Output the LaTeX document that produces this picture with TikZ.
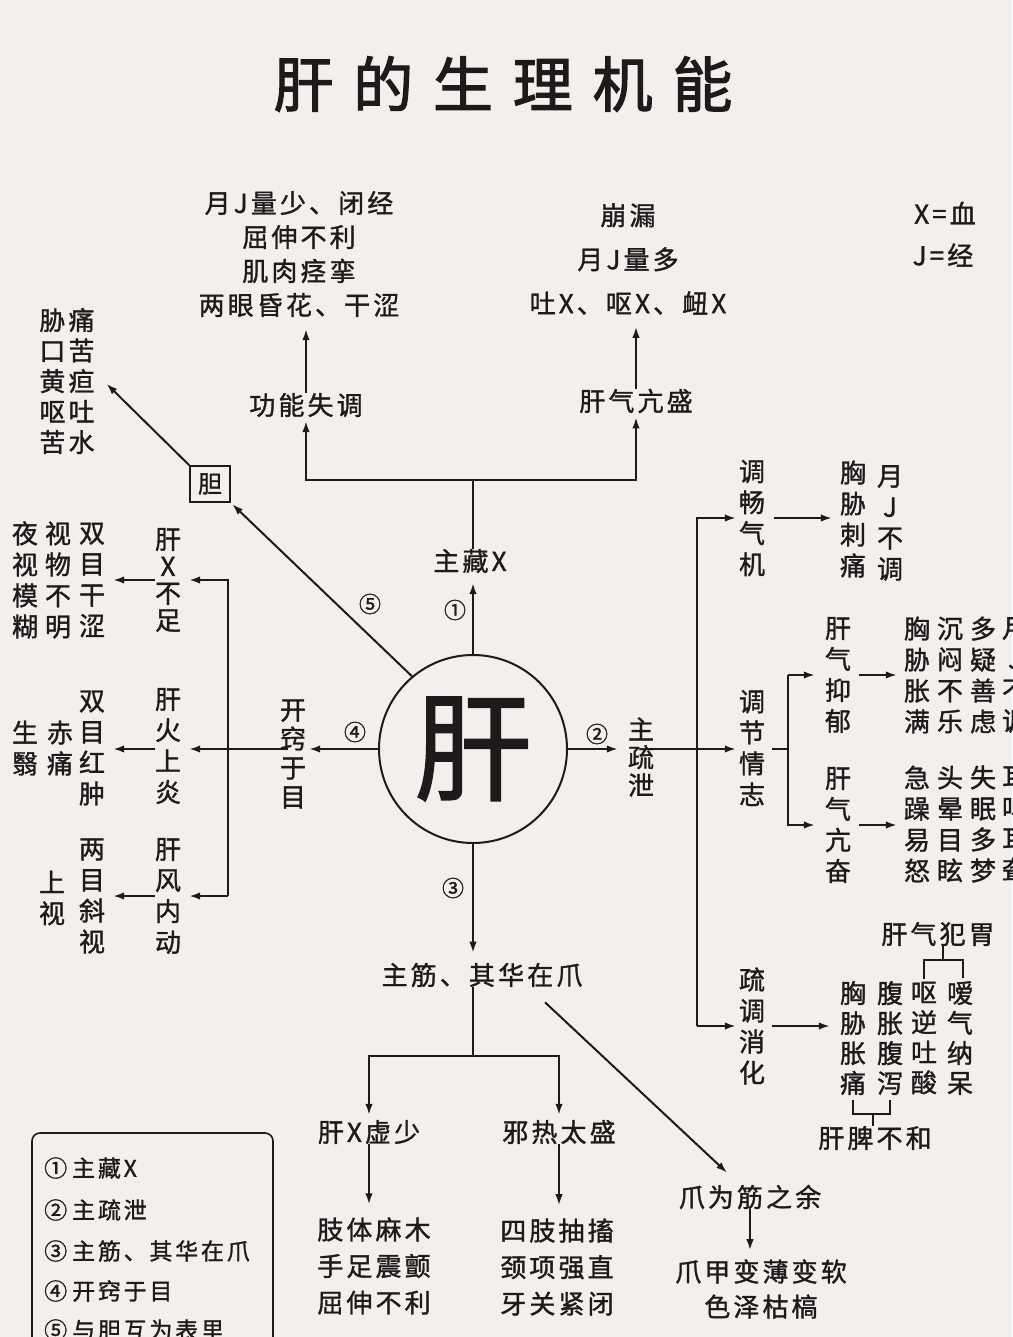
\documentclass[tikz,border=0pt]{standalone}
\usepackage{fontspec}
\setmainfont{Noto Sans CJK SC}[FakeBold=1.2]
\newfontfamily\hfont[LetterSpace=12,FakeBold=1.2]{Noto Sans CJK SC}
\newfontfamily\tfont[LetterSpace=33,FakeBold=2]{Noto Sans CJK SC}
\usetikzlibrary{arrows.meta,calc}
\definecolor{bg}{HTML}{F4EFEC}
\definecolor{ink}{HTML}{1C1A1A}
\begin{document}
\begin{tikzpicture}[x=1pt,y=-1pt,
  every node/.style={inner sep=0pt, text=ink},
  ht/.style={font=\hfont\fontsize{26}{34}\selectfont, align=center},
  vt/.style={font=\fontsize{26}{31}\selectfont, align=center},
  num/.style={font=\fontsize{22}{22}\selectfont},
  lgd/.style={anchor=west, font=\hfont\fontsize{23}{23}\selectfont},
  ln/.style={draw=ink, line width=2pt},
  arr/.style={ln, -{Latex[length=11pt,width=7.5pt]}, shorten >=4pt},
]
\fill[bg] (0,0) rectangle (1012,1337);
\useasboundingbox (0,0) rectangle (1012,1337);

% title
\node[font=\tfont\fontsize{60}{60}\selectfont] (title) at (503,84) {肝的生理机能};

% centre
\node[circle, draw=ink, line width=2pt, minimum size=188pt, font=\fontsize{118}{118}\selectfont] (gan) at (473,749) {\raisebox{-9pt}{肝}};

% ---------- top ----------
\node[ht] (zc) at (470,561) {主藏X};
\node[ht] (gnst) at (306,405) {功能失调};
\node[ht] (gqks) at (636,401) {肝气亢盛};
\node[ht] (l1) at (299,254) {月J量少、闭经\\屈伸不利\\肌肉痉挛\\两眼昏花、干涩};
\node[ht, font=\hfont\fontsize{26}{44}\selectfont] (l2) at (628,259) {崩漏\\月J量多\\吐X、呕X、衄X};
\node[ht] (xk) at (945,213) {X=血};
\node[ht] (jk) at (943,255) {J=经};
\coordinate (top) at (473,480);

\draw[arr, shorten >=10pt] (gan.north) -- (gan.north |- zc.south);
\draw[arr] (zc.north -| gan.north) -- (top) -| (gnst.south);
\draw[arr] (top) -| (gqks.south);
\draw[arr, shorten >=12pt] (gnst.north) -- (gnst.north |- l1.south);
\draw[arr, shorten >=12pt] (gqks.north) -- (gqks.north |- l2.south);
\node[num] (n1) at (455,610) {①};

% ---------- gall bladder ----------
\node[draw=ink, line width=1.6pt, minimum width=40pt, minimum height=36pt, font=\fontsize{24}{24}\selectfont] (dan) at (210,484) {胆};
\node[ht, font=\hfont\fontsize{26}{30.5}\selectfont] (dl) at (67,381) {胁痛\\口苦\\黄疸\\呕吐\\苦水};
\draw[arr, shorten >=2pt] (gan.130) -- (dan.south east);
\draw[arr] (dan.north west) -- ($(dl.east)+(9,0)$);
\node[num] (n5) at (370,604) {⑤};

% ---------- left ----------
\node[vt, font=\fontsize{26}{29}\selectfont] (kq) at (293,754) {开\\窍\\于\\目};
\node[vt, font=\fontsize{26}{27}\selectfont] (gxbz) at (168,580) {肝\\X\\不\\足};
\node[vt] (gfsy) at (168,746) {肝\\火\\上\\炎};
\node[vt] (gfnd) at (168,896) {肝\\风\\内\\动};
\node[vt] (a1) at (92,580) {双\\目\\干\\涩};
\node[vt] (a2) at (58,580) {视\\物\\不\\明};
\node[vt] (a3) at (25,580) {夜\\视\\模\\糊};
\node[vt] (b1) at (92,748) {双\\目\\红\\肿};
\node[vt] (b2) at (60,748) {赤\\痛};
\node[vt] (b3) at (25,748) {生\\翳};
\node[vt] (c1) at (92,896) {两\\目\\斜\\视};
\node[vt] (c2) at (52,898) {上\\视};
\coordinate (lb) at (228,0);
\node[num] (n4) at (355,732) {④};

\draw[arr, shorten >=3pt] (gan.west) -- (gan.west -| kq.east);
\draw[arr, shorten >=8pt, shorten <=-8pt] (kq.west |- gan.west) -- (gfsy.east |- gan.west);
\draw[arr, shorten >=8pt] (lb |- gfnd) -- (gfnd.east);
\draw[arr, shorten >=8pt] (lb |- gfnd) |- (gxbz.east);
\draw[arr, shorten >=8pt] (gxbz.west) -- (gxbz.west -| a1.east);
\draw[arr, shorten >=8pt] (gfsy.west |- gan.west) -- (gan.west -| b1.east);
\draw[arr, shorten >=8pt] (gfnd.west) -- (gfnd.west -| c1.east);

% ---------- right ----------
\node[vt, font=\fontsize{26}{28}\selectfont] (szx) at (641,757) {主\\疏\\泄};
\node[vt] (tcqj) at (752,518) {调\\畅\\气\\机};
\node[vt] (e1) at (853,519) {胸\\胁\\刺\\痛};
\node[vt] (e2) at (890,523) {月\\J\\不\\调};
\node[vt] (tjqz) at (752,748) {调\\节\\情\\志};
\node[vt] (gqyy) at (838,675) {肝\\气\\抑\\郁};
\node[vt] (gqkf) at (838,825) {肝\\气\\亢\\奋};
\node[vt] (f1) at (917,675) {胸\\胁\\胀\\满};
\node[vt] (f2) at (950,675) {沉\\闷\\不\\乐};
\node[vt] (f3) at (983,675) {多\\疑\\善\\虑};
\node[vt] (f4) at (1015,675) {月\\J\\不\\调};
\node[vt] (g1) at (917,824) {急\\躁\\易\\怒};
\node[vt] (g2) at (950,824) {头\\晕\\目\\眩};
\node[vt] (g3) at (983,824) {失\\眠\\多\\梦};
\node[vt] (g4) at (1015,824) {耳\\鸣\\耳\\聋};
\node[vt] (sdxh) at (752,1026) {疏\\调\\消\\化};
\node[vt, font=\fontsize{26}{30}\selectfont] (d1) at (853,1038) {胸\\胁\\胀\\痛};
\node[vt, font=\fontsize{26}{30}\selectfont] (d2) at (890,1038) {腹\\胀\\腹\\泻};
\node[vt, font=\fontsize{26}{30}\selectfont] (d3) at (924,1038) {呕\\逆\\吐\\酸};
\node[vt, font=\fontsize{26}{30}\selectfont] (d4) at (960,1038) {嗳\\气\\纳\\呆};
\node[ht] (gqfw) at (938,934) {肝气犯胃};
\node[ht] (gpbh) at (875,1138) {肝脾不和};
\coordinate (rb) at (697,0);
\coordinate (mb) at (788,0);
\node[num] (n2) at (597,734) {②};

\draw[arr, shorten >=10pt] (gan.east) -- (gan.east -| szx.west);
\draw[arr, shorten >=3pt, shorten <=-8pt] (szx.east |- gan.east) -- (tjqz.west |- gan.east);
\draw[arr, shorten >=3pt] (rb |- sdxh) -- (sdxh.west);
\draw[arr, shorten >=3pt] (rb |- sdxh) |- (tcqj.west);
\draw[arr, shorten <=9pt, shorten >=8pt] (tcqj.east) -- (tcqj.east -| e1.west);
\draw[ln, shorten <=7pt] (tjqz.east |- gan.east) -- (mb |- gan.east);
\draw[arr, shorten >=10pt] (mb |- gqyy) -- (gqyy.west);
\draw[arr, shorten >=10pt] (mb |- gqyy) |- (gqkf.west);
\draw[arr, shorten <=8pt, shorten >=7pt] (gqyy.east) -- (gqyy.east -| f1.west);
\draw[arr, shorten <=8pt, shorten >=7pt] (gqkf.east) -- (gqkf.east -| g1.west);
\draw[arr, shorten <=7pt, shorten >=10pt] (sdxh.east) -- (sdxh.east -| d1.west);
% brackets
\draw[ln] ($(d3.north)+(0,-3)$) |- ($(gqfw.south)+(5,14)$) -| ($(d4.north)+(3,-3)$);
\draw[ln] ($(gqfw.south)+(5,0)$) -- ++(0,14);
\draw[ln] ($(d1.south)+(0,5)$) |- ($(gpbh.north)+(-2,-12)$) -| ($(d2.south)+(0,5)$);
\draw[ln] ($(gpbh.north)+(-2,0)$) -- ++(0,-12);

% ---------- bottom ----------
\node[ht] (zj) at (482,975) {主筋、其华在爪};
\node[ht] (gxxs) at (369,1132) {肝X虚少};
\node[ht] (xrts) at (559,1132) {邪热太盛};
\node[ht, font=\hfont\fontsize{26}{36.5}\selectfont] (l3) at (374,1266) {肢体麻木\\手足震颤\\屈伸不利};
\node[ht, font=\hfont\fontsize{26}{36.5}\selectfont] (l4) at (557,1267) {四肢抽搐\\颈项强直\\牙关紧闭};
\node[ht] (zwj) at (750,1197) {爪为筋之余};
\node[ht, font=\hfont\fontsize{26}{35}\selectfont] (zjbb) at (761,1289) {爪甲变薄变软\\色泽枯槁};
\coordinate (bj) at (473,1056);
\node[num] (n3) at (453,888) {③};

\draw[arr, shorten >=10pt] (gan.south) -- (gan.south |- zj.north);
\draw[ln] (zj.south -| gan.south) -- (bj);
\draw[arr, shorten >=5pt] (bj) -| (gxxs.north);
\draw[arr, shorten >=5pt] (bj) -| (xrts.north);
\draw[arr, shorten >=13pt] (gxxs.south) -- (gxxs.south |- l3.north);
\draw[arr, shorten >=13pt] (xrts.south) -- (xrts.south |- l4.north);
\draw[arr, shorten >=0pt] ($(zj.south)+(63,15)$) -- ($(zwj.north)+(-23,-12)$);
\draw[arr, shorten >=9pt] (zwj.south) -- (zwj.south |- zjbb.north);

% ---------- legend ----------
\draw[ln, line width=1.6pt, rounded corners=8pt] (32,1133) rectangle (273,1390);
\node[lgd] (lg1) at (44,1168) {①\hspace{5pt}主藏X};
\node[lgd] (lg2) at (44,1210) {②\hspace{5pt}主疏泄};
\node[lgd] (lg3) at (44,1251) {③\hspace{5pt}主筋、其华在爪};
\node[lgd] (lg4) at (44,1291) {④\hspace{5pt}开窍于目};
\node[lgd] (lg5) at (44,1330) {⑤\hspace{5pt}与胆互为表里};
\end{tikzpicture}
\end{document}
